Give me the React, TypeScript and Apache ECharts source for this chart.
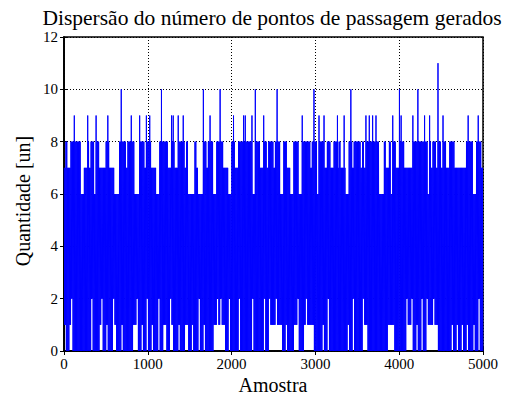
import React, { useEffect, useRef } from "react";
import * as echarts from "echarts";

const TITLE = "Dispersão do número de pontos de passagem gerados";
const X_NAME = "Amostra";
const Y_NAME = "Quantidade [un]";
const SAMPLE_COUNT = 5000;
const X_TICK_STEP = 1000;
const Y_MAX = 12;
const Y_TICK_STEP = 2;

// samples per drawn column (about 1.7 px wide)
const COLUMN = 20;

// usual band of the signal
const TYPICAL_TOP = 7;
const TYPICAL_BOTTOM = 1;

// isolated spikes reaching 9 or more (sample index, value)
const peakSamples = [
  135, 284, 386, 529, 685, 808, 916, 990, 1038, 1176, 1280, 1305, 1366, 1426,
  1663, 1756, 1862, 2026, 2143, 2172, 2240, 2258, 2299, 2382, 2546, 2844, 2984,
  3056, 3112, 3279, 3351, 3437, 3614, 3650, 3680, 3728, 3937, 4000, 4033, 4176,
  4225, 4308, 4365, 4475, 4528, 4821, 4949,
];
const peakValues = [
  9, 9, 9, 9, 10, 9, 9, 9, 9, 10, 9, 9, 9, 9,
  10, 9, 10, 9, 9, 9, 9, 9, 10, 9, 10, 9, 10,
  9, 9, 9, 9, 10, 9, 9, 9, 9, 9, 10, 9, 9,
  10, 9, 9, 11, 9, 9, 9,
];

// stretches where the maximum reaches 8
const eightRanges = [
  [22, 28], [94, 102], [130, 188], [285, 295], [338, 350], [384, 418], [503, 531],
  [665, 736], [770, 787], [812, 838], [904, 944], [984, 1024], [1152, 1238],
  [1283, 1314], [1370, 1422], [1460, 1475], [1566, 1577], [1660, 1694],
  [1729, 1773], [1830, 1891], [2018, 2034], [2088, 2231], [2298, 2332],
  [2385, 2401], [2446, 2498], [2526, 2570], [2633, 2659], [2753, 2789],
  [2845, 2881], [2911, 2929], [2976, 3008], [3056, 3088], [3144, 3176],
  [3230, 3248], [3282, 3296], [3402, 3439], [3462, 3526], [3561, 3576],
  [3614, 3745], [3820, 3834], [3880, 3894], [3931, 3943], [4005, 4044],
  [4172, 4204], [4239, 4283], [4306, 4324], [4362, 4373], [4418, 4436],
  [4473, 4485], [4537, 4555], [4606, 4642], [4818, 4862], [4929, 4961],
];

// stretches where the maximum stays at 6
const sixRanges = [
  [200, 235], [358, 376], [600, 640], [850, 890], [1100, 1140], [1490, 1545],
  [1600, 1645], [1783, 1815], [1960, 2005], [2250, 2285], [2582, 2620],
  [2700, 2740], [2800, 2832], [3018, 3046], [3365, 3392], [3760, 3810],
  [3905, 3922], [4336, 4354], [4880, 4915],
];

// samples where the minimum stays at 2 (thin white streaks)
const twoSamples = [
  49, 97, 207, 262, 336, 441, 587, 710, 759, 818, 870, 984, 1135, 1175, 1276,
  1347, 1488, 1605, 1734, 1825, 1860, 1968, 2086, 2192, 2259, 2387, 2410, 2459,
  2539, 2678, 2737, 2797, 2887, 3006, 3057, 3156, 3327, 3375, 3445, 3560, 3635,
  3795, 3953, 4033, 4093, 4153, 4273, 4323, 4411, 4531, 4611, 4731, 4779, 4871,
  4949,
];

// stretches where the minimum reaches 0
const zeroRanges = [
  [20, 50], [110, 145], [175, 200], [215, 240], [250, 270], [290, 315], [350, 370],
  [395, 415], [460, 490], [530, 565], [630, 670], [715, 740], [778, 800],
  [880, 910], [945, 970], [1000, 1020], [1070, 1100], [1150, 1175], [1225, 1250],
  [1315, 1345], [1395, 1425], [1490, 1510], [1555, 1580], [1628, 1650],
  [1690, 1720], [1745, 1770], [1930, 1955], [1985, 2010], [2035, 2060],
  [2100, 2125], [2150, 2180], [2205, 2235], [2270, 2300], [2330, 2360],
  [2400, 2430], [2600, 2630], [2660, 2680], [2700, 2730], [2810, 2840],
  [2980, 3010], [3035, 3070], [3100, 3130], [3160, 3200], [3230, 3260],
  [3290, 3320], [3340, 3370], [3400, 3430], [3460, 3500], [3520, 3540],
  [3620, 3660], [3690, 3720], [3750, 3780], [3810, 3850], [3940, 3970],
  [3990, 4020], [4040, 4060], [4160, 4190], [4220, 4250], [4280, 4300],
  [4460, 4490], [4510, 4540], [4570, 4600], [4640, 4670], [4700, 4730],
  [4760, 4790], [4830, 4860], [4900, 4930], [4960, 4990],
];

function overlaps(ranges: number[][], a: number, b: number) {
  return ranges.some(([s, e]) => s <= b && e >= a);
}

function buildPoints() {
  const pts: number[][] = [];
  const cols = SAMPLE_COUNT / COLUMN;
  for (let k = 0; k < cols; k++) {
    const a = k * COLUMN;
    const b = a + COLUMN - 1;
    let hi = TYPICAL_TOP;
    if (overlaps(sixRanges, a, b)) hi = 6;
    if (overlaps(eightRanges, a, b)) hi = 8;
    let peak = hi;
    peakSamples.forEach((s, i) => {
      if (s >= a && s <= b) peak = Math.max(peak, peakValues[i]);
    });
    let lo = TYPICAL_BOTTOM;
    if (twoSamples.some((s) => s >= a && s <= b)) lo = 2;
    if (overlaps(zeroRanges, a, b)) lo = 0;
    pts.push([a + 3, peak], [a + 8, lo], [a + 13, hi], [a + 18, lo]);
  }
  return pts;
}

const FONT = "'Liberation Serif', 'DejaVu Serif', 'Times New Roman', serif";

export default function App() {
  const ref = useRef<HTMLDivElement>(null);
  useEffect(() => {
    if (!ref.current) return;
    const chart = echarts.init(ref.current, undefined, { renderer: "svg" });
    const gridLine = { show: true, lineStyle: { color: "#000", width: 1, type: [1, 2] as any } };
    const plain = (v: number) => String(v);
    chart.setOption({
      animation: false,
      backgroundColor: "#fff",
      textStyle: { fontFamily: FONT },
      graphic: [
        {
          type: "text",
          x: 272,
          y: 18,
          style: {
            text: TITLE,
            fontFamily: FONT,
            fontSize: 21.5,
            fill: "#000",
            align: "center",
            verticalAlign: "middle",
          },
        },
        {
          type: "text",
          x: 23,
          y: 201,
          rotation: Math.PI / 2,
          style: {
            text: Y_NAME,
            fontFamily: FONT,
            fontSize: 20,
            fill: "#000",
            align: "center",
            verticalAlign: "middle",
          },
        },
        {
          type: "text",
          x: 273,
          y: 385,
          style: {
            text: X_NAME,
            fontFamily: FONT,
            fontSize: 20,
            fill: "#000",
            align: "center",
            verticalAlign: "middle",
          },
        },
      ],
      grid: {
        left: 64,
        right: 27,
        top: 37,
        bottom: 45,
        containLabel: false,
        outerBoundsMode: "none",
        show: true,
        borderColor: "#000",
        borderWidth: 1.5,
      } as any,
      xAxis: [
        {
          type: "value",
          min: 0,
          max: SAMPLE_COUNT,
          interval: X_TICK_STEP,
          axisLine: { show: true, lineStyle: { color: "#000", width: 1.5 } },
          axisTick: { show: true, inside: true, length: 4, lineStyle: { color: "#000" } },
          axisLabel: { fontFamily: FONT, fontSize: 15, color: "#000", margin: 5, formatter: plain },
          splitLine: gridLine,
        },
        {
          type: "value",
          position: "top",
          min: 0,
          max: SAMPLE_COUNT,
          interval: X_TICK_STEP,
          axisLine: { show: true, lineStyle: { color: "#000", width: 1.5 } },
          axisTick: { show: true, inside: true, length: 4, lineStyle: { color: "#000" } },
          axisLabel: { show: false },
          splitLine: { show: false },
        },
      ],
      yAxis: [
        {
          type: "value",
          min: 0,
          max: Y_MAX,
          interval: Y_TICK_STEP,
          axisLine: { show: true, lineStyle: { color: "#000", width: 1.5 } },
          axisTick: { show: true, inside: true, length: 4, lineStyle: { color: "#000" } },
          axisLabel: { fontFamily: FONT, fontSize: 15, color: "#000", margin: 6, formatter: plain },
          splitLine: gridLine,
        },
        {
          type: "value",
          position: "right",
          min: 0,
          max: Y_MAX,
          interval: Y_TICK_STEP,
          axisLine: { show: true, lineStyle: { color: "#000", width: 1.5 } },
          axisTick: { show: true, inside: true, length: 4, lineStyle: { color: "#000" } },
          axisLabel: { show: false },
          splitLine: { show: false },
        },
      ],
      series: [
        {
          type: "line",
          data: buildPoints(),
          showSymbol: false,
          symbol: "none",
          lineStyle: { color: "#0000ff", width: 1 },
          itemStyle: { color: "#0000ff" },
          silent: true,
          z: 1,
        },
      ],
    });
    return () => chart.dispose();
  }, []);
  return (
    <div
      ref={ref}
      style={{ position: "absolute", left: 0, top: 0, width: 510, height: 396 }}
    />
  );
}
